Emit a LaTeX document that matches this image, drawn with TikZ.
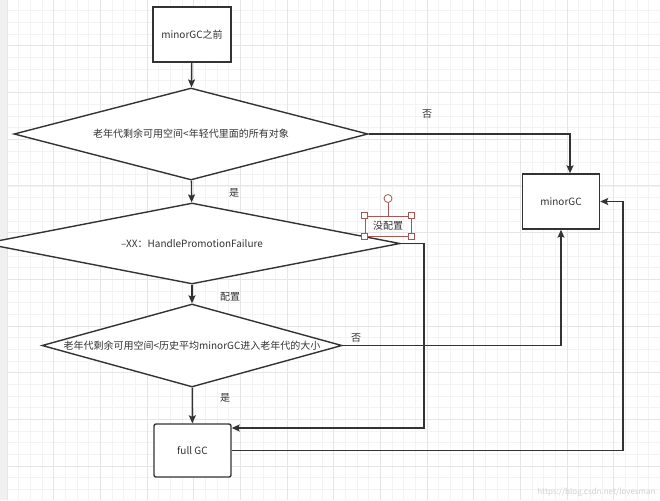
\documentclass[tikz,border=0pt]{standalone}
\usepackage{fontspec}
\setmainfont{Noto Sans CJK SC}
\usetikzlibrary{arrows.meta,shapes.geometric,positioning,calc}
\definecolor{ink}{HTML}{333333}
\definecolor{gridminor}{HTML}{F3F3F3}
\definecolor{gridmajor}{HTML}{E6E6E6}
\definecolor{handle}{RGB}{168,88,82}

\begin{document}
\begin{tikzpicture}[x=1pt,y=-1pt,
    every node/.style={font=\fontsize{10}{12}\selectfont, text=ink},
    box/.style={draw=ink, line width=1.4pt, fill=white, minimum width=78pt, minimum height=55pt, inner sep=0pt},
    dia/.style={diamond, draw=ink, line width=1.4pt, fill=white, inner sep=0pt},
    arr/.style={draw=ink, line width=1.4pt, -{Stealth[length=8pt,width=7pt,inset=1.5pt]}},
    line/.style={draw=ink, line width=1.4pt},
    tag/.style={inner sep=1pt}]
\clip (0,0) rectangle (660,500);
\fill[white] (0,0) rectangle (660,500);
\foreach \i in {0,...,56}
  \draw[gridminor, line width=1pt] ({7.3+\i*11.667},0) -- ({7.3+\i*11.667},500);
\foreach \j in {0,...,43}
  \draw[gridminor, line width=1pt] (7.3,{-0.67+\j*11.667}) -- (660,{-0.67+\j*11.667});
\foreach \i in {0,...,14}
  \draw[gridmajor, line width=1pt] ({7.3+\i*46.667},0) -- ({7.3+\i*46.667},500);
\foreach \j in {0,...,11}
  \draw[gridmajor, line width=1pt] (7.3,{-0.67+\j*46.667}) -- (660,{-0.67+\j*46.667});
\fill[black!6] (0,0) rectangle (7.3,500);

\node[box] (start) at (192,34.5) {minorGC之前};
\node[dia, minimum width=354pt, minimum height=92pt, label={center:老年代剩余可用空间<年轻代里面的所有对象}] (q1) at (191,134) {};
\node[dia, minimum width=416pt, minimum height=81pt, label={center:–XX：HandlePromotionFailure}] (q2) at (192,243.5) {};
\node[dia, minimum width=300pt, minimum height=83pt, label={center:老年代剩余可用空间<历史平均minorGC进入老年代的大小}] (q3) at (192,345.5) {};
\node[box, rounded corners=2pt, minimum width=77pt, minimum height=53pt] (full) at (192.5,450.5) {full GC};
\node[box, minimum width=77pt, minimum height=55pt] (minor) at (561,201.5) {minorGC};

\coordinate (c1) at (424,428);
\coordinate (c2) at (623,201.5);

\draw[arr] (start) -- (q1);
\draw[arr] (q1.east) -| ([xshift=9pt]minor.north);
\draw[arr] (q1) -- (q2);
\draw[arr] (q2.east) -| (c1) -- (full.east |- c1);
\draw[arr] (q2) -- (q3);
\draw[arr] (q3.east) -| (minor.south);
\draw[arr] (q3) -- (full);
\draw[arr] (full.east) -| (c2) -- (minor.east);

\node[tag] (no1) at (427,114) {否};
\node[tag] (yes1) at (234,193) {是};
\node[tag] (cfg) at (230,297) {配置};
\node[tag] (no2) at (356,338) {否};
\node[tag] (yes2) at (225,398) {是};

\node[draw=handle, line width=0.8pt, minimum width=46pt, minimum height=20pt, inner sep=0pt] (nocfg) at (388,226) {没配置};
\node[draw=handle, fill=white, circle, line width=0.8pt, minimum size=8pt, inner sep=0pt] (rot) at (388,198.5) {};
\draw[handle, line width=0.8pt] (rot) -- (nocfg.north);
\foreach \c in {north west,north east,south west,south east}
  \node[draw=handle, fill=white, line width=0.8pt, minimum size=6pt, inner sep=0pt] at (nocfg.\c) {};

\node[text=black!18, font=\fontsize{8}{9}\selectfont, anchor=east] (mark) at (659,492) {https://blog.csdn.net/lovesman};
\end{tikzpicture}
\end{document}
